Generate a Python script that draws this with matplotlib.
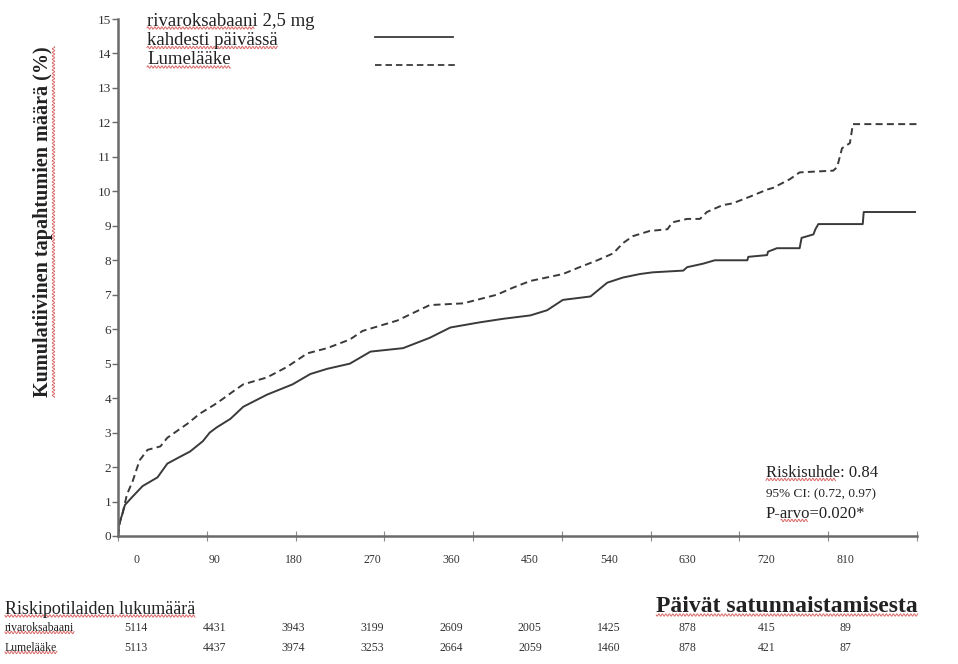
import matplotlib
matplotlib.use("Agg")
import numpy as np
import matplotlib.pyplot as plt
from matplotlib.transforms import blended_transform_factory, IdentityTransform

# ---------------- data ----------------
riva_days = [0, 1, 4, 7, 15, 25, 40, 50, 63, 73, 86, 93, 100, 114, 127, 151, 177, 195, 212, 235,
             256, 289, 316, 337, 367, 390, 418, 435, 451, 479, 496, 512, 529, 542, 573, 577, 593,
             605, 638, 639, 658, 659, 668, 691, 693, 705, 707, 710, 755, 756, 808]
riva_pct = [0, 0.35, 0.6, 0.9, 1.15, 1.45, 1.7, 2.1, 2.3, 2.45, 2.75, 3.0, 3.15, 3.4, 3.75, 4.1, 4.4,
            4.7, 4.85, 5.0, 5.35, 5.45, 5.75, 6.05, 6.2, 6.3, 6.4, 6.55, 6.85, 6.95, 7.35, 7.5, 7.6,
            7.65, 7.7, 7.8, 7.9, 8.0, 8.0, 8.1, 8.15, 8.25, 8.35, 8.35, 8.65, 8.75, 8.9, 9.05, 9.05,
            9.4, 9.4]

plac_days = [0, 2, 5, 9, 15, 19, 22, 30, 43, 50, 70, 83, 100, 117, 127, 151, 171, 192, 212, 235,
             248, 283, 316, 350, 384, 400, 418, 451, 468, 486, 502, 512, 522, 539, 557, 562, 577,
             590, 597, 613, 623, 641, 658, 664, 681, 691, 725, 729, 734, 742, 745, 810]
plac_pct = [0, 0.4, 0.7, 1.2, 1.6, 1.95, 2.2, 2.5, 2.6, 2.85, 3.25, 3.55, 3.85, 4.2, 4.4, 4.6, 4.9,
            5.3, 5.45, 5.7, 5.95, 6.25, 6.7, 6.75, 7.0, 7.2, 7.4, 7.6, 7.8, 8.0, 8.2, 8.5, 8.7, 8.85,
            8.9, 9.1, 9.2, 9.2, 9.4, 9.6, 9.65, 9.85, 10.05, 10.1, 10.35, 10.55, 10.6, 10.7, 11.25,
            11.4, 11.95, 11.95]

x_ticks = [0, 90, 180, 270, 360, 450, 540, 630, 720, 810]
y_ticks = list(range(0, 16))
risk_riva = [5114, 4431, 3943, 3199, 2609, 2005, 1425, 878, 415, 89]
risk_plac = [5113, 4437, 3974, 3253, 2664, 2059, 1460, 878, 421, 87]

legend_text = ["rivaroksabaani 2,5 mg", "kahdesti päivässä", "Lumelääke"]
ylabel = "Kumulatiivinen tapahtumien määrä (%)"
stats = ["Riskisuhde: 0.84", "95% CI: (0.72, 0.97)", "P-arvo=0.020*"]
risk_title = "Riskipotilaiden lukumäärä"
days_title = "Päivät satunnaistamisesta"
row_names = ["rivaroksabaani", "Lumelääke"]

# ---------------- figure ----------------
W, H = 958, 664
fig = plt.figure(figsize=(W / 100, H / 100), dpi=100)
serif = "Liberation Serif"
txt_col = "#222222"
L, R, B, T = 118, 917, 536, 19
ax = fig.add_axes([L / W, 1 - B / H, (R - L) / W, (B - T) / H])
ax.set_xlim(0, 810)
ax.set_ylim(0, 15)

line_col = "#3a3a3a"
ax.plot(riva_days, riva_pct, color=line_col, lw=1.4)
ax.plot(plac_days, plac_pct, color=line_col, lw=1.4, dashes=(3.6, 2.2))

for s in ["top", "right"]:
    ax.spines[s].set_visible(False)
for s in ["left", "bottom"]:
    ax.spines[s].set_color("#6a6a6a")
    ax.spines[s].set_linewidth(1.8)

ax.set_yticks(y_ticks)
ax.set_yticklabels([str(v) for v in y_ticks], fontfamily=serif, fontsize=9.5, color="#333333")
ax.tick_params(axis="y", direction="out", length=4, width=1, color="#6a6a6a", pad=1)

ax.set_xticks(x_ticks)
ax.set_xticklabels([])
ax.tick_params(axis="x", direction="inout", length=7, width=0.8, color="#8a8a8a")

# the printed day labels sit on a slightly compressed scale relative to the plot
def lab2day(v):
    return 18.25 + 0.8874 * np.asarray(v, dtype=float)

def day2lab(d):
    return (np.asarray(d, dtype=float) - 18.25) / 0.8874

sec = ax.secondary_xaxis("bottom", functions=(day2lab, lab2day))
sec.set_xticks(x_ticks)
sec.set_xticklabels([str(v) for v in x_ticks], fontfamily=serif, fontsize=8.5, color="#333333")
sec.tick_params(axis="x", length=0, pad=13)
sec.spines["bottom"].set_visible(False)

ylab = ax.text((43 - L) / (R - L), (B - 222) / (B - T), ylabel, transform=ax.transAxes,
               rotation=90, ha="center", va="center", fontfamily=serif, fontsize=14.5,
               fontweight="bold", color=txt_col)

# legend
fy = lambda py: 1 - py / H
leg = []
for i, t in enumerate(legend_text):
    leg.append(fig.text(147 / W, fy(21 + 19.5 * i), t, ha="left", va="center",
                        fontfamily=serif, fontsize=13.5, color=txt_col))
fig.add_artist(plt.Line2D([375 / W, 453 / W], [fy(37), fy(37)], color=line_col, lw=1.3))
fig.add_artist(plt.Line2D([375 / W, 458 / W], [fy(65), fy(65)], color=line_col, lw=1.3,
                          dashes=(3.6, 2.2)))

# stats
sx = 766 / W
st0 = fig.text(sx, fy(473), stats[0], ha="left", va="center", fontfamily=serif, fontsize=12,
               color=txt_col)
fig.text(sx, fy(494), stats[1], ha="left", va="center", fontfamily=serif, fontsize=9.5,
         color=txt_col)
st2 = fig.text(sx, fy(514), stats[2], ha="left", va="center", fontfamily=serif, fontsize=12,
               color=txt_col)

# risk table
rt = fig.text(5 / W, fy(609), risk_title, ha="left", va="center", fontfamily=serif,
              fontsize=13, color=txt_col)
dt = fig.text(918 / W, fy(606), days_title, ha="right", va="center",
              fontfamily=serif, fontsize=17, fontweight="bold", color=txt_col)
r1 = fig.text(5 / W, fy(628), row_names[0], ha="left", va="center", fontfamily=serif,
              fontsize=8.5, color=txt_col)
r2 = fig.text(5 / W, fy(648), row_names[1], ha="left", va="center", fontfamily=serif,
              fontsize=8.5, color=txt_col)
bt = blended_transform_factory(ax.transData, fig.transFigure)
for v, a, b in zip(x_ticks, risk_riva, risk_plac):
    ax.text(lab2day(v), fy(628), str(a), transform=bt, ha="center", va="center",
            fontfamily=serif, fontsize=8.5, color="#333333")
    ax.text(lab2day(v), fy(648), str(b), transform=bt, ha="center", va="center",
            fontfamily=serif, fontsize=8.5, color="#333333")

# red spell-check squiggles under Finnish words (as in the scanned original)
fig.canvas.draw()
rend = fig.canvas.get_renderer()

def squiggle(t, frac0=0.0, frac1=1.0, vertical=False):
    bb = t.get_window_extent(rend)
    if vertical:
        a = bb.y0 + frac0 * bb.height
        b = bb.y0 + frac1 * bb.height
        s = np.arange(a, b, 0.5)
        xs = bb.x1 + 0.5 + 1.2 * np.sin(s * 2 * np.pi / 3.5)
        ys = s
    else:
        a = bb.x0 + frac0 * bb.width
        b = bb.x0 + frac1 * bb.width
        s = np.arange(a, b, 0.5)
        xs = s
        ys = bb.y0 + 1.5 + 1.2 * np.sin(s * 2 * np.pi / 3.5)
    fig.add_artist(plt.Line2D(xs, ys, transform=IdentityTransform(), color="#d03a3a",
                              lw=0.7, alpha=0.75))

squiggle(leg[0], 0.0, 0.64)
squiggle(leg[1])
squiggle(leg[2])
squiggle(ylab, 0.0, 1.0, vertical=True)
squiggle(st0, 0.0, 0.62)
squiggle(st2, 0.15, 0.42)
squiggle(rt)
squiggle(dt)
squiggle(r1)
squiggle(r2)

fig.savefig("out.png", dpi=100)
